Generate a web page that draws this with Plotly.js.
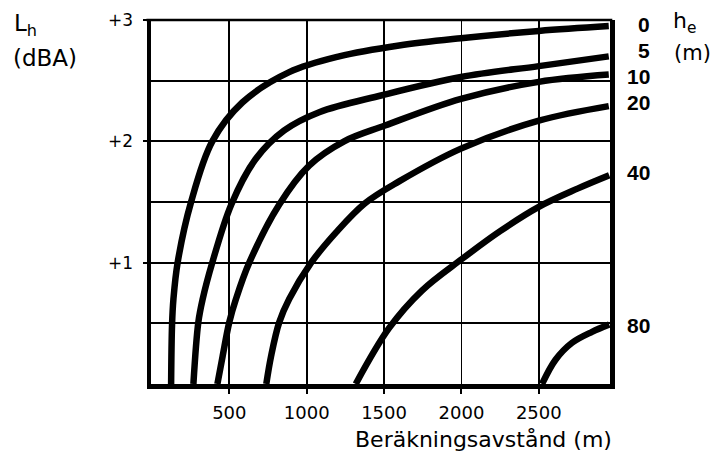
<!DOCTYPE html>
<html>
<head>
<meta charset="utf-8">
<script src="https://cdn.plot.ly/plotly-3.0.1.min.js"></script>
<style>html,body{margin:0;padding:0;background:#fff;}</style>
</head>
<body>
<div id="chart" style="width:717px;height:454px;"></div>
<script>
// Data (x: Beräkningsavstånd in m, y: L_h in dBA)
const h0_x  = [124, 130, 139, 166, 253, 390, 584, 887, 1210, 1597, 1997, 2500, 2952];
const h0_y  = [0,   0.49, 0.70, 1.0, 1.5, 2.0, 2.32, 2.57, 2.70, 2.79, 2.85, 2.91, 2.95];
const h5_x  = [268, 300, 328, 390, 513, 668, 855, 1081, 1487, 1997, 2500, 2952];
const h5_y  = [0,   0.51, 0.70, 1.0, 1.48, 1.85, 2.09, 2.24, 2.38, 2.53, 2.62, 2.70];
const h10_x = [423, 457, 500, 543, 629, 823, 1016, 1242, 1506, 1997, 2500, 2952];
const h10_y = [0,   0.23, 0.51, 0.70, 1.0, 1.48, 1.80, 2.0, 2.13, 2.35, 2.49, 2.55];
const h20_x = [739, 770, 823, 887, 1029, 1190, 1377, 1597, 1997, 2500, 2952];
const h20_y = [0,   0.23, 0.51, 0.70, 1.0, 1.25, 1.49, 1.67, 1.94, 2.17, 2.29];
const h40_x = [1317, 1532, 1745, 2003, 2250, 2500, 2750, 2955];
const h40_y = [0,    0.46, 0.77, 1.03, 1.26, 1.46, 1.61, 1.72];
const h80_x = [2521, 2608, 2715, 2844, 2955];
const h80_y = [0,    0.20, 0.34, 0.43, 0.49];

const seriesX = [h0_x, h5_x, h10_x, h20_x, h40_x, h80_x];
const seriesY = [h0_y, h5_y, h10_y, h20_y, h40_y, h80_y];
const seriesNames = ['0', '5', '10', '20', '40', '80'];

const xTickVals = [500, 1000, 1500, 2000, 2500];
const xTickText = ['500', '1000', '1500', '2000', '2500'];
const yTickVals = [1, 2, 3];
const yTickText = ['+1', '+2', '+3'];
const yMinorVals = [0.5, 1.5, 2.5];

// layout geometry
const W = 717, H = 454;
const ML = 151, MR = 107, MT = 20, MB = 70;
const PW = W - ML - MR, PH = H - MT - MB;
const px = x => (x - ML) / PW;
const py = y => (H - MB - y) / PH;

const traces = seriesX.map((xs, i) => ({
  x: xs, y: seriesY[i], name: seriesNames[i],
  type: 'scatter', mode: 'lines',
  line: {color: '#000', width: 6.5, shape: 'spline', smoothing: 1.0},
  hoverinfo: 'skip', showlegend: false
}));

const lblFont = {family: 'Liberation Sans, Arial, sans-serif', size: 21, color: '#000', weight: 'bold'};
const labelPy = [25, 50.5, 76, 103, 173, 325];
const annotations = seriesNames.map((n, i) => ({
  text: n, xref: 'paper', yref: 'paper', x: px(651), y: py(labelPy[i]),
  xanchor: 'right', yanchor: 'middle', showarrow: false, borderpad: 0, font: lblFont
}));

annotations.push(
  {text: 'L<sub>h</sub>', xref: 'paper', yref: 'paper', x: px(12), y: py(8), xanchor: 'left', yanchor: 'top',
   showarrow: false, font: {family: 'DejaVu Sans, sans-serif', size: 23, color: '#000'}},
  {text: '(dBA)', xref: 'paper', yref: 'paper', x: px(11), y: py(58), xanchor: 'left', yanchor: 'middle',
   showarrow: false, font: {family: 'DejaVu Sans, sans-serif', size: 23, color: '#000'}},
  {text: 'h<sub>e</sub>', xref: 'paper', yref: 'paper', x: px(671), y: py(6), xanchor: 'left', yanchor: 'top',
   showarrow: false, font: {family: 'DejaVu Sans, sans-serif', size: 22, color: '#000'}},
  {text: '(m)', xref: 'paper', yref: 'paper', x: px(672), y: py(53), xanchor: 'left', yanchor: 'middle',
   showarrow: false, font: {family: 'DejaVu Sans, sans-serif', size: 21, color: '#000'}},
  {text: 'Beräkningsavstånd (m)', xref: 'paper', yref: 'paper', x: px(614), y: py(440), xanchor: 'right', yanchor: 'middle',
   showarrow: false, font: {family: 'DejaVu Sans, sans-serif', size: 22, color: '#000'}}
);

const layout = {
  width: W, height: H,
  margin: {l: ML, r: MR, t: MT, b: MB, pad: 0},
  paper_bgcolor: '#fff', plot_bgcolor: '#fff',
  showlegend: false,
  xaxis: {
    range: [-6, 2960], fixedrange: true,
    tickmode: 'array', tickvals: xTickVals, ticktext: xTickText,
    showgrid: true, gridcolor: '#000', gridwidth: 1.8,
    zeroline: false, showline: true, linecolor: '#000', linewidth: 4.5, mirror: false,
    ticks: 'outside', ticklen: 5, tickwidth: 2, tickcolor: '#000', ticklabelstandoff: 4,
    tickfont: {family: 'DejaVu Sans, sans-serif', size: 18, color: '#000'}
  },
  yaxis: {
    range: [0, 3], fixedrange: true,
    tickmode: 'array', tickvals: yTickVals, ticktext: yTickText,
    showgrid: true, gridcolor: '#000', gridwidth: 1.8,
    minor: {tickvals: yMinorVals, showgrid: true, gridcolor: '#000', gridwidth: 1.8, ticks: ''},
    zeroline: false, showline: true, linecolor: '#000', linewidth: 4.5, mirror: true,
    ticks: 'outside', ticklen: 4, tickwidth: 2, tickcolor: '#000', ticklabelstandoff: 6,
    tickfont: {family: 'DejaVu Sans, sans-serif', size: 17, color: '#000'}
  },
  shapes: [
    {type: 'line', xref: 'paper', yref: 'paper', x0: -0.01, x1: 1.005, y0: 1, y1: 1,
     line: {color: '#000', width: 2.5}}
  ],
  annotations: annotations
};

Plotly.newPlot('chart', traces, layout, {staticPlot: true, displayModeBar: false});
</script>
</body>
</html>
